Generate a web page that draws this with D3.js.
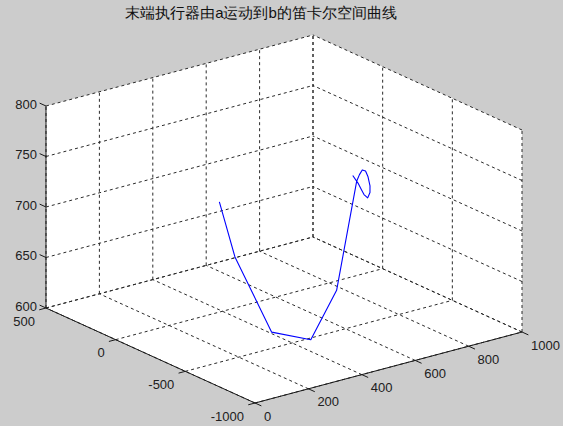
<!DOCTYPE html>
<html>
<head>
<meta charset="utf-8">
<script src="https://cdn.jsdelivr.net/npm/d3@7"></script>
<style>
  html, body { margin: 0; padding: 0; background: #cccccc; }
  svg { display: block; }
  text { font-family: "Liberation Sans", Arial, sans-serif; }
</style>
</head>
<body>
<svg id="chart" width="563" height="426"></svg>
<script>
const title = '末端执行器由a运动到b的笛卡尔空间曲线';

const xTicks = [0, 200, 400, 600, 800, 1000];
const yTicks = [-1000, -500, 0, 500];
const zTicks = [600, 650, 700, 750, 800];

// end effector path
const pathX = [200, 250, 350, 450, 600, 710, 720, 730, 737, 750, 760, 762, 755, 748, 738, 725, 710];
const pathY = [-361, -377, -449, -538, -436, -369, -370, -371, -381, -374, -369, -365, -362, -349, -347, -350, -341];
const pathZ = [745, 688, 611, 602, 634, 730, 736, 740, 739, 732, 722, 715, 710, 713, 719, 726, 734];

const svg = d3.select('#chart');
const W = +svg.attr('width'), H = +svg.attr('height');

svg.append('rect').attr('width', W).attr('height', H).attr('fill', '#cccccc');

// box frame: front-bottom corner and the screen vectors for each axis
const origin = [255, 403];
const uVec = [267, -71];   // x: 0 -> 1000
const vVec = [-209, -95];  // y: -1000 -> 500

const x = d3.scaleLinear().domain([0, 1000]).range([0, 1]);
const y = d3.scaleLinear().domain([-1000, 500]).range([0, 1]);
const z = d3.scaleLinear().domain([600, 800]).range([0, -202]);

function proj(a, b, c) {
  const u = x(a), v = y(b);
  return [origin[0] + uVec[0] * u + vVec[0] * v,
          origin[1] + uVec[1] * u + vVec[1] * v + z(c)];
}

const [x0, x1] = x.domain(), [y0, y1] = y.domain(), [z0, z1] = z.domain();

// white back planes
const planes = [
  [[x0, y0, z0], [x1, y0, z0], [x1, y1, z0], [x0, y1, z0]],
  [[x0, y1, z0], [x1, y1, z0], [x1, y1, z1], [x0, y1, z1]],
  [[x1, y0, z0], [x1, y1, z0], [x1, y1, z1], [x1, y0, z1]]
];
svg.append('g').selectAll('polygon').data(planes).join('polygon')
  .attr('points', d => d.map(p => proj(...p).join(',')).join(' '))
  .attr('fill', '#ffffff').attr('stroke', 'none');

// grid lines
const grid = [];
xTicks.forEach(t => {
  grid.push([[t, y0, z0], [t, y1, z0]]);
  grid.push([[t, y1, z0], [t, y1, z1]]);
});
yTicks.forEach(t => {
  grid.push([[x0, t, z0], [x1, t, z0]]);
  grid.push([[x1, t, z0], [x1, t, z1]]);
});
zTicks.forEach(t => {
  grid.push([[x0, y1, t], [x1, y1, t]]);
  grid.push([[x1, y0, t], [x1, y1, t]]);
});
svg.append('g').selectAll('line').data(grid).join('line')
  .attr('x1', d => proj(...d[0])[0]).attr('y1', d => proj(...d[0])[1])
  .attr('x2', d => proj(...d[1])[0]).attr('y2', d => proj(...d[1])[1])
  .attr('stroke', '#2a2a2a').attr('stroke-width', 1)
  .attr('stroke-dasharray', '3,3');

// axis lines
const axes = [
  [[x0, y0, z0], [x1, y0, z0]],
  [[x0, y0, z0], [x0, y1, z0]],
  [[x0, y1, z0], [x0, y1, z1]]
];
svg.append('g').selectAll('line').data(axes).join('line')
  .attr('x1', d => proj(...d[0])[0]).attr('y1', d => proj(...d[0])[1])
  .attr('x2', d => proj(...d[1])[0]).attr('y2', d => proj(...d[1])[1])
  .attr('stroke', '#1a1a1a').attr('stroke-width', 1);

const unit = v => { const l = Math.hypot(v[0], v[1]); return [v[0] / l, v[1] / l]; };
const tickLen = 7;
const vDir = unit(vVec), uDir = unit(uVec);

const labels = svg.append('g').attr('font-size', 13).attr('fill', '#202020');
const ticks = svg.append('g').attr('stroke', '#1a1a1a').attr('stroke-width', 1);

// x ticks
xTicks.forEach(t => {
  const p = proj(t, y0, z0);
  ticks.append('line').attr('x1', p[0]).attr('y1', p[1])
    .attr('x2', p[0] - vDir[0] * tickLen).attr('y2', p[1] - vDir[1] * tickLen);
  labels.append('text').attr('x', p[0] + 9).attr('y', p[1] + 13)
    .attr('dy', '0.35em').attr('text-anchor', 'start').text(t);
});

// y ticks
yTicks.forEach(t => {
  const p = proj(x0, t, z0);
  ticks.append('line').attr('x1', p[0]).attr('y1', p[1])
    .attr('x2', p[0] - uDir[0] * tickLen).attr('y2', p[1] - uDir[1] * tickLen);
  labels.append('text').attr('x', p[0] - 11).attr('y', p[1] + 13)
    .attr('dy', '0.35em').attr('text-anchor', 'end').text(t);
});

// z ticks
zTicks.forEach(t => {
  const p = proj(x0, y1, t);
  ticks.append('line').attr('x1', p[0]).attr('y1', p[1])
    .attr('x2', p[0] + vDir[0] * tickLen).attr('y2', p[1] + vDir[1] * tickLen);
  labels.append('text').attr('x', p[0] - 9).attr('y', p[1] - 2)
    .attr('dy', '0.35em').attr('text-anchor', 'end').text(t);
});

// path
const pts = pathX.map((d, i) => proj(d, pathY[i], pathZ[i]));
svg.append('path')
  .attr('d', d3.line()(pts))
  .attr('fill', 'none').attr('stroke', '#0000ff').attr('stroke-width', 1.1)
  .attr('stroke-linejoin', 'round');

svg.append('text')
  .attr('x', 261).attr('y', 18)
  .attr('text-anchor', 'middle')
  .attr('font-family', '"Noto Sans CJK SC", sans-serif')
  .attr('font-size', 15).attr('fill', '#111')
  .text(title);
</script>
</body>
</html>
